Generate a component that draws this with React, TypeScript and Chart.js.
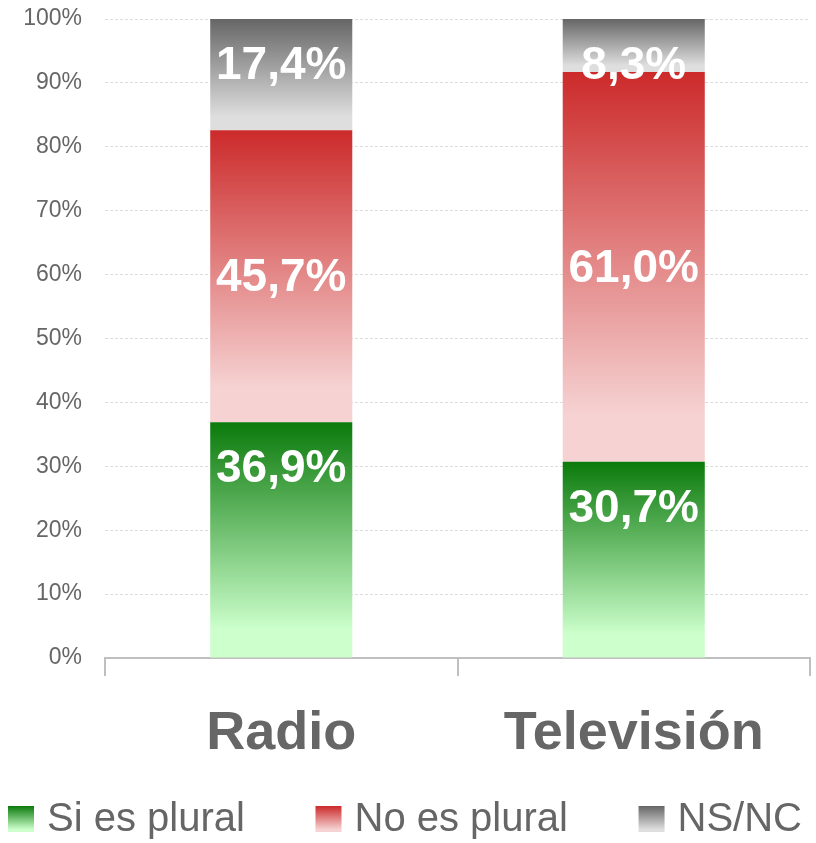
import React, { useEffect, useRef } from "react";
import { Chart, registerables } from "chart.js";

Chart.register(...registerables);

const categories = ["Radio", "Televisión"];
const seriesNames = ["Si es plural", "No es plural", "NS/NC"];
const siEsPlural = [36.9, 30.7];
const noEsPlural = [45.7, 61.0];
const nsNc = [17.4, 8.3];
const series = [siEsPlural, noEsPlural, nsNc];
const yTicks = [0, 10, 20, 30, 40, 50, 60, 70, 80, 90, 100];

const gradientStops: [string, string][] = [
  ["#0b7a0b", "#ccffcc"],
  ["#cc2a2a", "#f6d2d2"],
  ["#666666", "#dedede"],
];

const FONT = '"Liberation Sans", Arial, Helvetica, sans-serif';

function fmt(v: number) {
  return v.toFixed(1).replace(".", ",") + "%";
}

const labelsPlugin = {
  id: "segLabels",
  afterDatasetsDraw(chart: any) {
    const ctx = chart.ctx;
    ctx.save();
    ctx.fillStyle = "#ffffff";
    ctx.font = `bold 46px ${FONT}`;
    ctx.textAlign = "center";
    ctx.textBaseline = "middle";
    chart.data.datasets.forEach((ds: any, d: number) => {
      const meta = chart.getDatasetMeta(d);
      meta.data.forEach((el: any, i: number) => {
        const top = Math.min(el.y, el.base);
        const bot = Math.max(el.y, el.base);
        const y = d === 1 ? (top + bot) / 2 + 2 : top + 47;
        ctx.fillText(fmt(ds.data[i]), el.x, y);
      });
    });
    ctx.restore();
  },
};

const legendPlugin = {
  id: "customLegend",
  afterDraw(chart: any) {
    const ctx = chart.ctx;
    ctx.save();
    ctx.font = `40px ${FONT}`;
    const box = 26;
    const gapText = 13;
    const widths = seriesNames.map((n) => box + gapText + ctx.measureText(n).width);
    const left = 8;
    const right = chart.width - 14;
    const total = widths.reduce((a, b) => a + b, 0);
    const gap = (right - left - total) / (seriesNames.length - 1);
    let x = left;
    const boxTop = 806;
    seriesNames.forEach((name, k) => {
      const g = ctx.createLinearGradient(0, boxTop, 0, boxTop + box);
      g.addColorStop(0, gradientStops[k][0]);
      g.addColorStop(0.9, gradientStops[k][1]);
      g.addColorStop(1, gradientStops[k][1]);
      ctx.fillStyle = g;
      ctx.fillRect(x, boxTop, box, box);
      ctx.fillStyle = "#666666";
      ctx.textAlign = "left";
      ctx.textBaseline = "middle";
      ctx.fillText(name, x + box + gapText, boxTop + box / 2 + 1);
      x += widths[k] + gap;
    });
    ctx.restore();
  },
};

export default function App() {
  const ref = useRef<HTMLCanvasElement | null>(null);

  useEffect(() => {
    document.body.style.margin = "0";
    const canvas = ref.current;
    if (!canvas) return;

    const makeBg = (d: number) => (c: any) => {
      const chart = c.chart;
      const { chartArea, scales } = chart;
      if (!chartArea || !scales || !scales.y || c.dataIndex === undefined) {
        return gradientStops[d][0];
      }
      const i = c.dataIndex;
      let base = 0;
      for (let k = 0; k < d; k++) base += series[k][i];
      const top = base + series[d][i];
      const yTop = scales.y.getPixelForValue(top);
      const yBot = scales.y.getPixelForValue(base);
      if (!isFinite(yTop) || !isFinite(yBot)) return gradientStops[d][0];
      const g = chart.ctx.createLinearGradient(0, yTop, 0, yBot);
      g.addColorStop(0, gradientStops[d][0]);
      g.addColorStop(0.88, gradientStops[d][1]);
      g.addColorStop(1, gradientStops[d][1]);
      return g;
    };

    const chart = new Chart(canvas, {
      type: "bar",
      data: {
        labels: categories,
        datasets: series.map((vals, d) => ({
          label: seriesNames[d],
          data: vals,
          backgroundColor: makeBg(d),
          borderWidth: 0,
          categoryPercentage: 1,
          barPercentage: 0.403,
        })),
      },
      options: {
        animation: false,
        responsive: true,
        maintainAspectRatio: false,
        layout: { padding: { top: 19, right: 6, left: 0, bottom: 0 } },
        plugins: {
          legend: { display: false },
          tooltip: { enabled: false },
        },
        scales: {
          x: {
            stacked: true,
            offset: true,
            grid: {
              display: true,
              offset: true,
              drawOnChartArea: false,
              drawTicks: true,
              tickLength: 18,
              color: "#bfbfbf",
              lineWidth: 2,
            },
            border: { display: true, color: "#bfbfbf", width: 2 },
            ticks: {
              color: "#666666",
              font: { family: FONT, size: 54, weight: "bold" },
              padding: 26,
            },
            afterFit(scale: any) {
              scale.height = 843 - 658;
              scale.paddingLeft = 0;
              scale.paddingRight = 0;
            },
          },
          y: {
            stacked: true,
            min: 0,
            max: 100,
            afterBuildTicks(scale: any) {
              scale.ticks = yTicks.map((v) => ({ value: v }));
            },
            grid: {
              color: "#dddddd",
              lineWidth: 1,
              drawTicks: false,
            },
            border: { display: false, dash: [3, 2] },
            ticks: {
              color: "#666666",
              font: { family: FONT, size: 23 },
              padding: 23,
              callback: (v: any) => `${v}%`,
            },
            afterFit(scale: any) {
              scale.width = 105;
              scale.paddingTop = 0;
              scale.paddingBottom = 0;
            },
          },
        },
      },
      plugins: [labelsPlugin, legendPlugin],
    });

    return () => chart.destroy();
  }, []);

  return (
    <div style={{ width: 816, height: 843, position: "relative" }}>
      <canvas ref={ref} />
    </div>
  );
}
